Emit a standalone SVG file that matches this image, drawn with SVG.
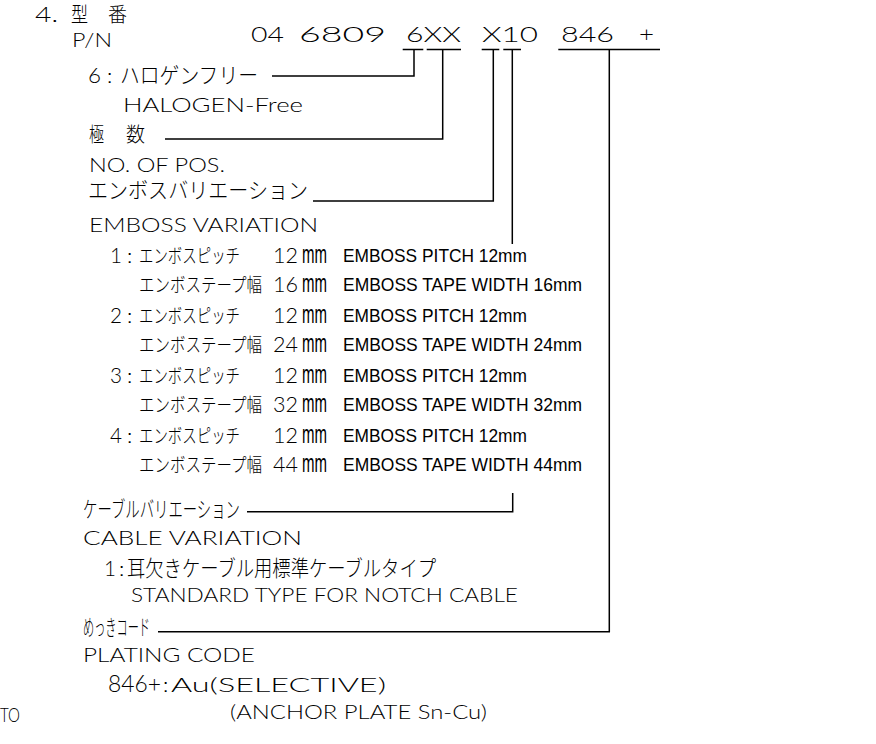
<svg xmlns="http://www.w3.org/2000/svg" width="876" height="744" viewBox="0 0 876 744">
<style>
text{fill:#000}
.L{font-family:"Lato","Liberation Sans","Noto Sans CJK JP",sans-serif;font-weight:300;font-size:20px}
.D{font-family:"Lato","Liberation Sans",sans-serif;font-weight:300;font-size:21px}
.M{font-family:"Liberation Sans",sans-serif;font-size:25px}
.N{font-family:"Liberation Sans",sans-serif;font-size:19px}
.J{font-family:"Noto Sans CJK JP",sans-serif;font-weight:300;font-size:22px}
.P{font-family:"Noto Sans CJK JP",sans-serif;font-weight:300;font-size:19px}
.T{font-family:"Noto Sans CJK JP",sans-serif;font-weight:300;font-size:16px}
.E{font-family:"Noto Sans CJK JP",sans-serif;font-weight:300;font-size:18px}
.K{font-family:"Noto Sans CJK JP",sans-serif;font-weight:300;font-size:20px}
.c{fill:none;stroke:#000;stroke-width:1.5}
</style>
<rect width="876" height="744" fill="#fff"/>

<g id="title">
<text y="22"><tspan class="D" x="35" textLength="23" lengthAdjust="spacingAndGlyphs">4.</tspan><tspan class="K" x="71" textLength="17" lengthAdjust="spacingAndGlyphs">型</tspan><tspan class="K" x="108" textLength="19" lengthAdjust="spacingAndGlyphs">番</tspan></text>
<text class="L" x="72" y="47" textLength="40" lengthAdjust="spacingAndGlyphs">P/N</text>
</g>

<g id="partnumber">
<text class="D" y="42"><tspan x="251" textLength="33" lengthAdjust="spacingAndGlyphs">04</tspan><tspan x="299" textLength="87" lengthAdjust="spacingAndGlyphs">6809</tspan><tspan x="406" textLength="55" lengthAdjust="spacingAndGlyphs">6XX</tspan><tspan x="482" textLength="56" lengthAdjust="spacingAndGlyphs">X10</tspan><tspan x="561" textLength="53" lengthAdjust="spacingAndGlyphs">846</tspan><tspan x="639" textLength="15" lengthAdjust="spacingAndGlyphs">+</tspan></text>
</g>

<g id="n-halogen">
<text y="83"><tspan class="D" x="88" textLength="13" lengthAdjust="spacingAndGlyphs">6</tspan><tspan class="N" x="107">:</tspan><tspan class="J" x="120" textLength="138" lengthAdjust="spacingAndGlyphs">ハロゲンフリー</tspan></text>
<text class="L" x="123" y="112" textLength="180" lengthAdjust="spacingAndGlyphs">HALOGEN-Free</text>
</g>

<g id="n-pos">
<text class="K" y="142"><tspan x="89" textLength="15" lengthAdjust="spacingAndGlyphs">極</tspan><tspan x="126" textLength="19" lengthAdjust="spacingAndGlyphs">数</tspan></text>
<text class="L" x="89" y="172" textLength="136" lengthAdjust="spacingAndGlyphs">NO. OF POS.</text>
</g>

<g id="n-emboss">
<text class="E" x="88" y="198" transform="matrix(1 0 0 1.22 0 -43.56)" textLength="220" lengthAdjust="spacingAndGlyphs">エンボスバリエーション</text>
<text class="L" x="89" y="232" textLength="229" lengthAdjust="spacingAndGlyphs">EMBOSS VARIATION</text>
</g>

<g id="n-emboss-table">
<text y="263"><tspan class="D" x="110" textLength="12" lengthAdjust="spacingAndGlyphs">1</tspan><tspan class="N" x="127">:</tspan><tspan class="P" x="139" textLength="101" lengthAdjust="spacingAndGlyphs">エンボスピッチ</tspan></text>
<text y="263"><tspan class="D" x="273" textLength="25" lengthAdjust="spacingAndGlyphs">12</tspan><tspan class="M" x="302" textLength="25" lengthAdjust="spacingAndGlyphs">mm</tspan></text>
<text class="N" x="343" y="262" textLength="184" lengthAdjust="spacingAndGlyphs">EMBOSS PITCH 12mm</text>

<text class="T" x="139" y="292" transform="matrix(1 0 0 1.19 0 -55.48)" textLength="123" lengthAdjust="spacingAndGlyphs">エンボステープ幅</text>
<text y="292"><tspan class="D" x="273" textLength="25" lengthAdjust="spacingAndGlyphs">16</tspan><tspan class="M" x="302" textLength="25" lengthAdjust="spacingAndGlyphs">mm</tspan></text>
<text class="N" x="343" y="291" textLength="239" lengthAdjust="spacingAndGlyphs">EMBOSS TAPE WIDTH 16mm</text>

<text y="323"><tspan class="D" x="110" textLength="12" lengthAdjust="spacingAndGlyphs">2</tspan><tspan class="N" x="127">:</tspan><tspan class="P" x="139" textLength="101" lengthAdjust="spacingAndGlyphs">エンボスピッチ</tspan></text>
<text y="323"><tspan class="D" x="273" textLength="25" lengthAdjust="spacingAndGlyphs">12</tspan><tspan class="M" x="302" textLength="25" lengthAdjust="spacingAndGlyphs">mm</tspan></text>
<text class="N" x="343" y="322" textLength="184" lengthAdjust="spacingAndGlyphs">EMBOSS PITCH 12mm</text>

<text class="T" x="139" y="352" transform="matrix(1 0 0 1.19 0 -66.88)" textLength="123" lengthAdjust="spacingAndGlyphs">エンボステープ幅</text>
<text y="352"><tspan class="D" x="273" textLength="25" lengthAdjust="spacingAndGlyphs">24</tspan><tspan class="M" x="302" textLength="25" lengthAdjust="spacingAndGlyphs">mm</tspan></text>
<text class="N" x="343" y="351" textLength="239" lengthAdjust="spacingAndGlyphs">EMBOSS TAPE WIDTH 24mm</text>

<text y="383"><tspan class="D" x="110" textLength="12" lengthAdjust="spacingAndGlyphs">3</tspan><tspan class="N" x="127">:</tspan><tspan class="P" x="139" textLength="101" lengthAdjust="spacingAndGlyphs">エンボスピッチ</tspan></text>
<text y="383"><tspan class="D" x="273" textLength="25" lengthAdjust="spacingAndGlyphs">12</tspan><tspan class="M" x="302" textLength="25" lengthAdjust="spacingAndGlyphs">mm</tspan></text>
<text class="N" x="343" y="382" textLength="184" lengthAdjust="spacingAndGlyphs">EMBOSS PITCH 12mm</text>

<text class="T" x="139" y="412" transform="matrix(1 0 0 1.19 0 -78.28)" textLength="123" lengthAdjust="spacingAndGlyphs">エンボステープ幅</text>
<text y="412"><tspan class="D" x="273" textLength="25" lengthAdjust="spacingAndGlyphs">32</tspan><tspan class="M" x="302" textLength="25" lengthAdjust="spacingAndGlyphs">mm</tspan></text>
<text class="N" x="343" y="411" textLength="239" lengthAdjust="spacingAndGlyphs">EMBOSS TAPE WIDTH 32mm</text>

<text y="443"><tspan class="D" x="110" textLength="12" lengthAdjust="spacingAndGlyphs">4</tspan><tspan class="N" x="127">:</tspan><tspan class="P" x="139" textLength="101" lengthAdjust="spacingAndGlyphs">エンボスピッチ</tspan></text>
<text y="443"><tspan class="D" x="273" textLength="25" lengthAdjust="spacingAndGlyphs">12</tspan><tspan class="M" x="302" textLength="25" lengthAdjust="spacingAndGlyphs">mm</tspan></text>
<text class="N" x="343" y="442" textLength="184" lengthAdjust="spacingAndGlyphs">EMBOSS PITCH 12mm</text>

<text class="T" x="139" y="472" transform="matrix(1 0 0 1.19 0 -89.68)" textLength="123" lengthAdjust="spacingAndGlyphs">エンボステープ幅</text>
<text y="472"><tspan class="D" x="273" textLength="25" lengthAdjust="spacingAndGlyphs">44</tspan><tspan class="M" x="302" textLength="25" lengthAdjust="spacingAndGlyphs">mm</tspan></text>
<text class="N" x="343" y="471" textLength="239" lengthAdjust="spacingAndGlyphs">EMBOSS TAPE WIDTH 44mm</text>
</g>

<g id="n-cable">
<text class="J" x="83" y="517" textLength="157" lengthAdjust="spacingAndGlyphs">ケーブルバリエーション</text>
<text class="L" x="83" y="545" textLength="219" lengthAdjust="spacingAndGlyphs">CABLE VARIATION</text>
<text y="576"><tspan class="D" x="104" textLength="12" lengthAdjust="spacingAndGlyphs">1</tspan><tspan class="N" x="119">:</tspan><tspan class="J" x="127" textLength="309" lengthAdjust="spacingAndGlyphs">耳欠きケーブル用標準ケーブルタイプ</tspan></text>
<text class="L" x="131" y="602" textLength="387" lengthAdjust="spacingAndGlyphs">STANDARD TYPE FOR NOTCH CABLE</text>
</g>

<g id="n-plating">
<text class="J" x="83" y="635" textLength="67" lengthAdjust="spacingAndGlyphs">めっきコード</text>
<text class="L" x="83" y="662" textLength="172" lengthAdjust="spacingAndGlyphs">PLATING CODE</text>
<text y="692"><tspan class="D" x="108" textLength="53" lengthAdjust="spacingAndGlyphs" style="font-size:23px">846+</tspan><tspan class="N" x="163">:</tspan><tspan class="L" x="171" textLength="215" lengthAdjust="spacingAndGlyphs">Au(SELECTIVE)</tspan></text>
<text class="L" x="230" y="719" textLength="257" lengthAdjust="spacingAndGlyphs">(ANCHOR PLATE Sn-Cu)</text>
<text class="L" x="0" y="722" textLength="20" lengthAdjust="spacingAndGlyphs">TO</text>
</g>

<g id="connectors">
<path class="c" d="M402.7 49.5H423.3M426.7 49.5H461M481.7 49.5H499.3M503.3 49.5H521M558.3 49.5H660"/>
<path class="c" d="M414 49.5V76H272"/>
<path class="c" d="M442.7 49.5V139H165"/>
<path class="c" d="M493.3 49.5V201H313"/>
<path class="c" d="M512.3 49.5V244"/>
<path class="c" d="M512.7 493V511.7H247"/>
<path class="c" d="M609.3 49.5V631.7H158"/>
</g>
</svg>
